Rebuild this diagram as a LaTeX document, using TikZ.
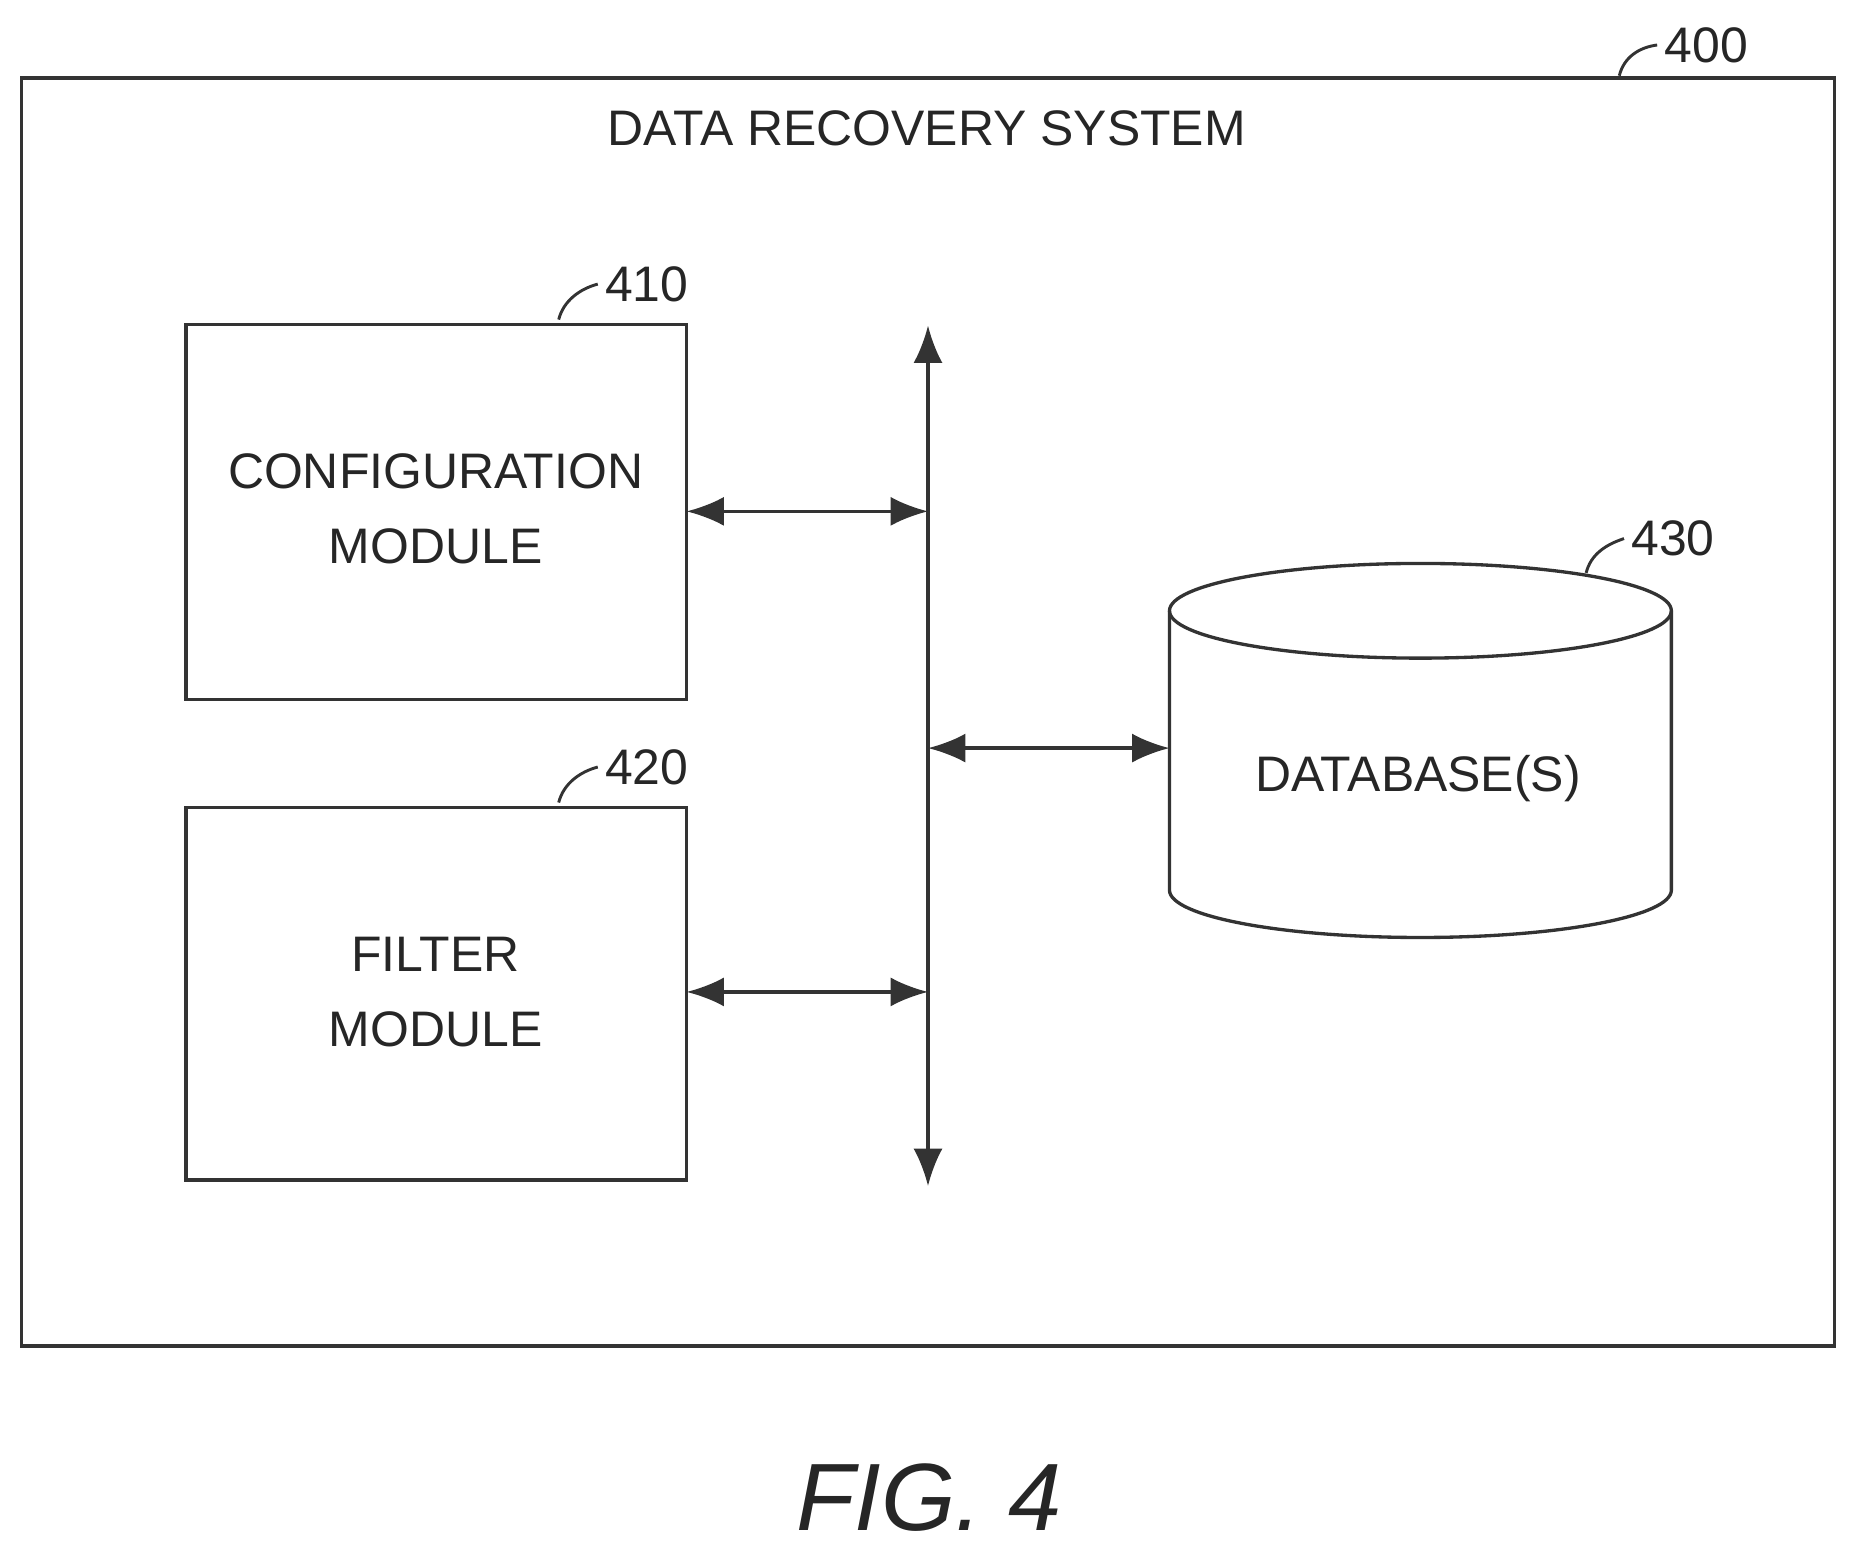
\documentclass[tikz,border=0pt]{standalone}
\usepackage{fontspec}
\setmainfont{Liberation Sans}
\usetikzlibrary{arrows.meta,shapes.geometric}
\begin{document}
\begin{tikzpicture}[x=0.02cm,y=-0.02cm,
  box/.style={draw=black!80,line width=1.6pt},
  lbl/.style={font=\fontsize{24}{28}\selectfont,text=black!85},
  conn/.style={line width=1.6pt,draw=black!80,{Latex[length=18pt,width=14pt]}-{Latex[length=18pt,width=14pt]}},
  sq/.style={line width=1.4pt,draw=black!80}]
\useasboundingbox (0,0) rectangle (1568,1312);
\draw[box] (18,66) rectangle (1550,1137);
\node[lbl] (title) at (783,108) {DATA RECOVERY SYSTEM};
\node[lbl,anchor=west] (l400) at (1400,38) {400};
\draw[sq] (1368,64) .. controls (1372,48) and (1385,40) .. (l400.west);
\draw[box] (157,274) rectangle (580,591);
\node[lbl,align=center] (cfg) at (368,430) {CONFIGURATION\\[8pt]MODULE};
\coordinate (cfgE) at (580,432);
\node[lbl,anchor=west] (l410) at (505,240) {410};
\draw[sq] (472,270) .. controls (476,254) and (490,244) .. (l410.west);
\draw[box] (157,682) rectangle (580,997);
\node[lbl,align=center] (flt) at (368,838) {FILTER\\[8pt]MODULE};
\coordinate (fltE) at (580,838);
\node[lbl,anchor=west] (l420) at (505,648) {420};
\draw[sq] (472,678) .. controls (476,662) and (490,652) .. (l420.west);
\coordinate (busT) at (784,275);
\coordinate (busB) at (784,1002);
\coordinate (b1) at (784,432);
\coordinate (b2) at (784,838);
\coordinate (b3) at (784,632);
\draw[conn] (busT) -- (busB);
\draw[conn] (cfgE) -- (b1);
\draw[conn] (fltE) -- (b2);
% cylinder
\draw[box] (988,516) -- (988,752) arc[start angle=180,end angle=0,x radius=212,y radius=40] -- (1412,516);
\draw[box] (1200,516) ellipse[x radius=212,y radius=40];
\coordinate (dbW) at (988,632);
\node[lbl] (db) at (1198,658) {DATABASE(S)};
\draw[conn] (b3) -- (dbW);
\node[lbl,anchor=west] (l430) at (1372,455) {430};
\draw[sq] (1340,484) .. controls (1344,468) and (1357,460) .. (l430.west);
\node[font=\fontsize{46}{52}\selectfont\itshape,text=black!85] (fig) at (785,1265) {FIG. 4};
\end{tikzpicture}
\end{document}
